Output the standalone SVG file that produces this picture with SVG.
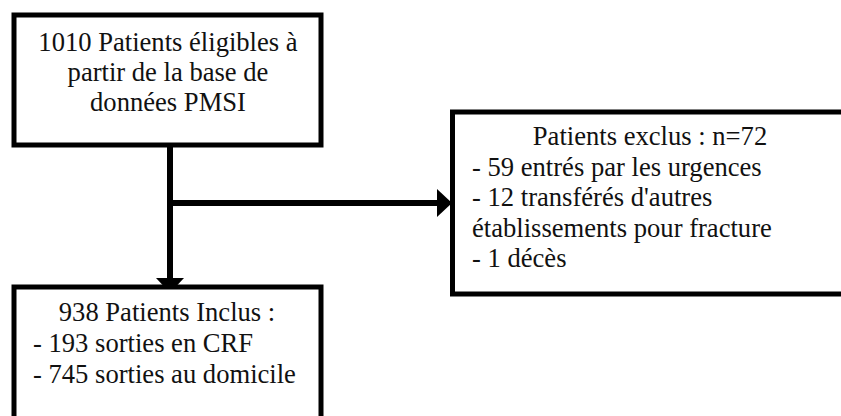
<svg xmlns="http://www.w3.org/2000/svg" width="841" height="416" viewBox="0 0 841 416">
<style>
.box{fill:#fff;stroke:#000;stroke-width:5}
.conn{stroke:#000;stroke-width:6;fill:none}
text{font-family:"Liberation Serif","Times New Roman",serif;font-size:26.6px;fill:#111}
.c{text-anchor:middle}
</style>
<defs>
<marker id="ah" viewBox="0 0 15 28" refX="0" refY="14" markerWidth="15" markerHeight="28" markerUnits="userSpaceOnUse" orient="auto">
<path d="M0,0 L15,14 L0,28 Z" fill="#000"/>
</marker>
</defs>
<rect width="841" height="416" fill="#fff"/>
<g id="connectors">
<line class="conn" x1="170" y1="145" x2="170" y2="278" marker-end="url(#ah)"/>
<line class="conn" x1="167" y1="203" x2="437" y2="203" marker-end="url(#ah)"/>
</g>
<g id="eligibles">
<rect class="box" x="14" y="15" width="307" height="130"/>
<text class="c" x="168" y="51">1010 Patients éligibles à</text>
<text class="c" x="168" y="81">partir de la base de</text>
<text class="c" x="168" y="111">données PMSI</text>
</g>
<g id="exclus">
<rect class="box" x="452.5" y="112" width="400" height="182"/>
<text class="c" x="650" y="145">Patients exclus : n=72</text>
<text x="472" y="176">- 59 entrés par les urgences</text>
<text x="472" y="206">- 12 transférés d'autres</text>
<text x="472" y="237">établissements pour fracture</text>
<text x="472" y="267">- 1 décès</text>
</g>
<g id="inclus">
<rect class="box" x="14" y="287" width="307" height="150"/>
<text class="c" x="167" y="321">938 Patients Inclus :</text>
<text x="33" y="352">- 193 sorties en CRF</text>
<text x="33" y="383">- 745 sorties au domicile</text>
</g>
</svg>
